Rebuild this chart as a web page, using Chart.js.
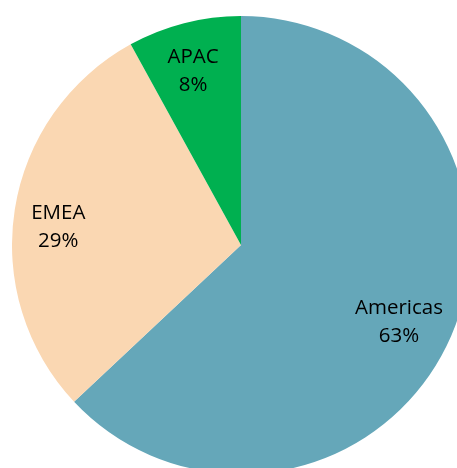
<!DOCTYPE html>
<html>
<head>
<meta charset="utf-8">
<script src="https://cdn.jsdelivr.net/npm/chart.js@4/dist/chart.umd.min.js"></script>
<style>
  html, body { margin: 0; padding: 0; background: #fff; }
  body { width: 457px; height: 468px; overflow: hidden; position: relative; }
  #pie { position: absolute; left: 12px; top: 16px; }
</style>
</head>
<body>
<canvas id="pie" width="458" height="458"></canvas>
<script>
// Revenue share by region
const regions = ['Americas', 'EMEA', 'APAC'];
const shares = [63, 29, 8];
const sliceColors = ['#65A7B9', '#FAD7B2', '#00B050'];

// Small hand adjustments so each label sits comfortably inside its slice
const labelNudge = [[-8, 4], [-4, 9], [-3, 0]];

// Writes "Region\nNN%" inside each slice along its middle angle
const sliceLabels = {
  id: 'sliceLabels',
  afterDatasetsDraw(chart) {
    const ctx = chart.ctx;
    const meta = chart.getDatasetMeta(0);
    const fontPx = 20.5;
    const capHalf = fontPx * 0.714 / 2;
    const lineGap = 28;
    ctx.save();
    ctx.font = fontPx + 'px "Open Sans", Lato, sans-serif';
    ctx.fillStyle = '#000';
    ctx.textAlign = 'center';
    ctx.textBaseline = 'alphabetic';
    meta.data.forEach((arc, i) => {
      const p = arc.getProps(['x', 'y', 'startAngle', 'endAngle', 'outerRadius'], true);
      const mid = (p.startAngle + p.endAngle) / 2;
      const r = p.outerRadius * 0.79;
      const cx = p.x + Math.cos(mid) * r + labelNudge[i][0];
      const cy = p.y + Math.sin(mid) * r + labelNudge[i][1];
      ctx.fillText(regions[i], cx, cy - lineGap / 2 + capHalf);
      ctx.fillText(shares[i] + '%', cx, cy + lineGap / 2 + capHalf);
    });
    ctx.restore();
  }
};

new Chart(document.getElementById('pie'), {
  type: 'pie',
  data: {
    labels: regions,
    datasets: [{
      data: shares,
      backgroundColor: sliceColors,
      borderWidth: 0
    }]
  },
  options: {
    responsive: false,
    animation: false,
    layout: { padding: 0 },
    plugins: {
      legend: { display: false },
      tooltip: { enabled: false }
    }
  },
  plugins: [sliceLabels]
});
</script>
</body>
</html>
